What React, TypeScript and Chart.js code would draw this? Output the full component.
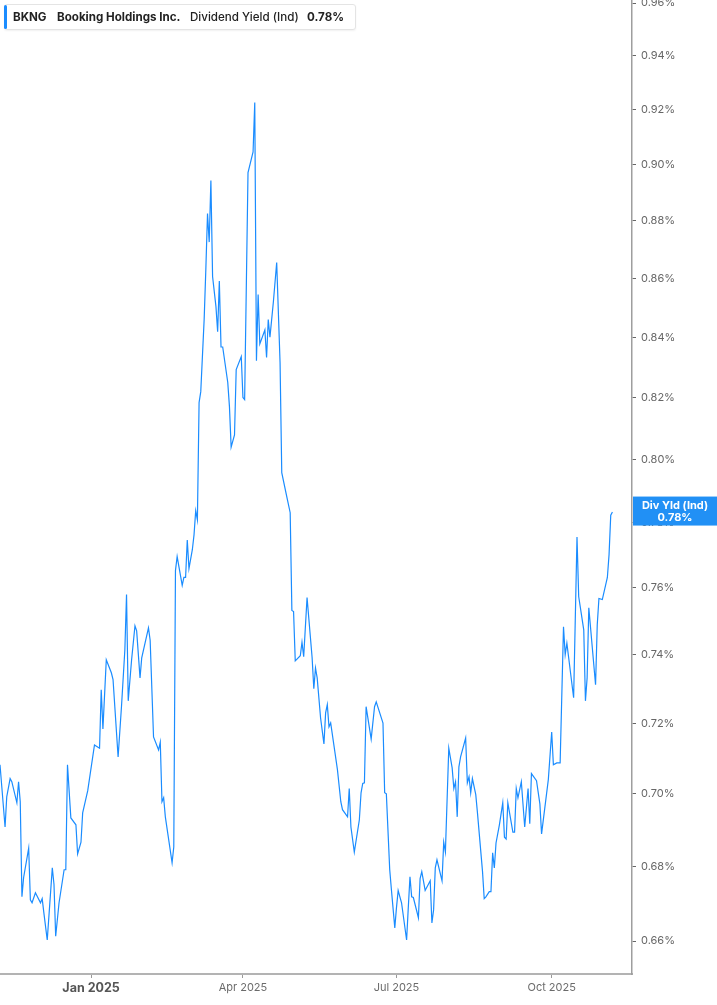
import React, { useEffect, useRef } from 'react';
import { Chart, registerables } from 'chart.js';

Chart.register(...registerables);

// Days since 2025-01-01 for each observed vertex of the series
const dayOffsets = [
  -54, -51, -50, -48, -47, -44, -43, -42, -41, -40,
  -37, -36, -35, -33, -30, -29, -28, -26, -23, -22,
  -21, -19, -16, -15, -14, -12, -9, -8, -6, -5,
  -2, 2, 5, 6, 7, 9, 12, 13, 16, 18,
  20, 21, 22, 24, 26, 27, 29, 30, 34, 35,
  37, 40, 41, 42, 43, 44, 48, 49, 50, 51,
  54, 55, 56, 57, 58, 60, 61, 62, 63, 64,
  65, 67, 68, 69, 70, 71, 72, 74, 75, 76,
  77, 78, 81, 82, 83, 85, 86, 89, 90, 91,
  93, 96, 97, 98, 99, 100, 103, 104, 105, 106,
  108, 110, 112, 113, 116, 118, 119, 120, 121, 124,
  125, 126, 128, 131, 132, 133, 134, 136, 138, 139,
  140, 141, 142, 146, 148, 149, 152, 153, 154, 156,
  159, 160, 161, 162, 163, 166, 168, 169, 173, 174,
  175, 177, 178, 180, 181, 182, 184, 187, 188, 189,
  190, 191, 194, 195, 196, 198, 201, 202, 203, 204,
  205, 208, 209, 210, 212, 214, 215, 216, 217, 218,
  219, 222, 223, 224, 225, 226, 228, 229, 232, 233,
  234, 236, 237, 238, 239, 240, 242, 244, 245, 246,
  247, 250, 251, 252, 253, 255, 257, 259, 260, 261,
  264, 266, 267, 271, 273, 274, 276, 278, 280, 281,
  282, 286, 288, 289, 292, 293, 294, 295, 299, 300,
  301, 303, 306, 307, 308, 309,
];

// Dividend yield (%) at those days
const yieldValues = [
  0.7082, 0.6908, 0.6992, 0.7043, 0.7034, 0.6975, 0.7034, 0.6978, 0.6718, 0.6770,
  0.6850, 0.6710, 0.6702, 0.6729, 0.6702, 0.6713, 0.6675, 0.6603, 0.6796, 0.6751,
  0.6613, 0.6702, 0.6791, 0.6791, 0.7082, 0.6933, 0.6914, 0.6834, 0.6866, 0.6947,
  0.7009, 0.7138, 0.7129, 0.7297, 0.7184, 0.7385, 0.7347, 0.7327, 0.7104, 0.7248,
  0.7414, 0.7580, 0.7265, 0.7385, 0.7486, 0.7471, 0.7332, 0.7391, 0.7480, 0.7443,
  0.7161, 0.7124, 0.7146, 0.6978, 0.6989, 0.6936, 0.6810, 0.6853, 0.7653, 0.7696,
  0.7608, 0.7632, 0.7632, 0.7747, 0.7659, 0.7717, 0.7763, 0.7838, 0.7810, 0.8184,
  0.8220, 0.8460, 0.8631, 0.8826, 0.8726, 0.8943, 0.8607, 0.8504, 0.8419, 0.8591,
  0.8368, 0.8368, 0.8250, 0.8171, 0.8040, 0.8079, 0.8293, 0.8336, 0.8201, 0.8194,
  0.8972, 0.9046, 0.9226, 0.8322, 0.8545, 0.8378, 0.8425, 0.8333, 0.8460, 0.8401,
  0.8518, 0.8655, 0.8316, 0.7958, 0.7882, 0.7832, 0.7532, 0.7529, 0.7382, 0.7397,
  0.7437, 0.7394, 0.7571, 0.7391, 0.7300, 0.7361, 0.7332, 0.7216, 0.7141, 0.7230,
  0.7254, 0.7190, 0.7201, 0.7068, 0.6978, 0.6956, 0.6936, 0.7015, 0.6908, 0.6839,
  0.6928, 0.7003, 0.7029, 0.7031, 0.7248, 0.7155, 0.7248, 0.7262, 0.7201, 0.7003,
  0.7000, 0.6791, 0.6737, 0.6635, 0.6689, 0.6735, 0.6702, 0.6603, 0.6689, 0.6772,
  0.6718, 0.6716, 0.6662, 0.6767, 0.6786, 0.6735, 0.6761, 0.6648, 0.6683, 0.6796,
  0.6818, 0.6761, 0.6866, 0.6839, 0.7129, 0.7073, 0.7015, 0.7034, 0.6936, 0.7076,
  0.7104, 0.7158, 0.7031, 0.7048, 0.7003, 0.7043, 0.6998, 0.6947, 0.6786, 0.6713,
  0.6718, 0.6732, 0.6732, 0.6837, 0.6796, 0.6864, 0.6914, 0.6975, 0.6880, 0.6875,
  0.6975, 0.6894, 0.6894, 0.7015, 0.6989, 0.7034, 0.6908, 0.7015, 0.6917, 0.7057,
  0.7037, 0.6972, 0.6889, 0.7040, 0.7175, 0.7082, 0.7087, 0.7087, 0.7483, 0.7400,
  0.7434, 0.7274, 0.7756, 0.7574, 0.7474, 0.7265, 0.7332, 0.7540, 0.7312, 0.7489,
  0.7568, 0.7565, 0.7632, 0.7702, 0.7824, 0.7834,
];

const xTickDays = [0, 90, 181, 273];
const xTickLabels = ['Jan 2025', 'Apr 2025', 'Jul 2025', 'Oct 2025'];
const yTickValues = [0.66, 0.68, 0.70, 0.72, 0.74, 0.76, 0.78, 0.80, 0.82, 0.84, 0.86, 0.88, 0.90, 0.92, 0.94, 0.96];

const tickerSymbol = 'BKNG';
const companyName = 'Booking Holdings Inc.';
const metricName = 'Dividend Yield (Ind)';
const lastValueText = '0.78%';
const endTagTitle = 'Div Yld (Ind)';

const X_MIN = -54;
const X_MAX = 320.6;
const Y_MIN = 0.6514;
const Y_MAX = 0.9612;

const LINE = '#1a8cff';
const FONT = 'Inter, "Noto Sans", Roboto, sans-serif';

const endLabel = {
  id: 'endLabel',
  afterDraw(chart: any) {
    const { ctx, chartArea, scales } = chart;
    const v = yieldValues[yieldValues.length - 1];
    const py = scales.y.getPixelForValue(v);
    const x0 = chartArea.right + 1;
    const w = chart.width - x0;
    const h = 29;
    const top = py - 15.5;
    ctx.save();
    ctx.fillStyle = '#2190f5';
    ctx.fillRect(x0, top, w, h);
    ctx.fillStyle = '#ffffff';
    ctx.font = `bold 11px ${FONT}`;
    ctx.textAlign = 'center';
    ctx.textBaseline = 'middle';
    const cx = x0 + w / 2;
    ctx.fillText(endTagTitle, cx, top + 9);
    ctx.fillText(lastValueText, cx, top + 21);
    ctx.restore();
  },
};

export default function App() {
  const ref = useRef<HTMLCanvasElement>(null);

  useEffect(() => {
    document.body.style.margin = '0';
    const points = dayOffsets.map((d, i) => ({ x: d, y: yieldValues[i] }));
    const chart = new Chart(ref.current as HTMLCanvasElement, {
      type: 'line',
      data: {
        datasets: [
          {
            data: points,
            borderColor: LINE,
            borderWidth: 1.2,
            pointRadius: 0,
            tension: 0,
            fill: false,
          },
        ],
      },
      options: {
        responsive: false,
        animation: false,
        layout: { padding: 0 },
        plugins: { legend: { display: false }, tooltip: { enabled: false } },
        scales: {
          x: {
            type: 'linear',
            min: X_MIN,
            max: X_MAX,
            afterBuildTicks: (s: any) => {
              s.ticks = xTickDays.map((v) => ({ value: v }));
            },
            afterFit: (s: any) => {
              s.height = 31;
              s.paddingLeft = 0;
              s.paddingRight = 0;
            },
            grid: { drawOnChartArea: false, drawTicks: true, tickLength: 4, color: '#9a9a9a' },
            border: { display: true, color: '#b3b3b3', width: 2 },
            ticks: {
              autoSkip: false,
              maxRotation: 0,
              padding: 3,
              color: (c: any) => (c.tick && c.tick.value === 0 ? '#555555' : '#6b6b6b'),
              font: (c: any) =>
                c.tick && c.tick.value === 0
                  ? { family: FONT, size: 12.5, weight: 'bold' }
                  : { family: FONT, size: 11 },
              callback: (v: any) => {
                const i = xTickDays.indexOf(Number(v));
                return i >= 0 ? xTickLabels[i] : '';
              },
            },
          },
          y: {
            type: 'logarithmic',
            position: 'right',
            min: Y_MIN,
            max: Y_MAX,
            afterBuildTicks: (s: any) => {
              s.ticks = yTickValues.map((v) => ({ value: v }));
            },
            afterFit: (s: any) => {
              s.width = 85;
              s.paddingTop = 0;
              s.paddingBottom = 0;
            },
            grid: { drawOnChartArea: false, drawTicks: true, tickLength: 4, color: '#666666' },
            border: { display: true, color: '#9e9e9e', width: 1.5 },
            ticks: {
              padding: 5,
              color: '#666666',
              font: { family: FONT, size: 11 },
              callback: (v: any) => Number(v).toFixed(2) + '%',
            },
          },
        },
      },
      plugins: [endLabel],
    } as any);
    return () => chart.destroy();
  }, []);

  return (
    <div style={{ position: 'relative', width: 717, height: 1005, overflow: 'hidden', background: '#fff' }}>
      <canvas ref={ref} width={717} height={1005} style={{ display: 'block', width: 717, height: 1005 }} />
      <div
        style={{
          position: 'absolute',
          left: 4,
          top: 4,
          width: 352,
          height: 26,
          boxSizing: 'border-box',
          background: '#fff',
          border: '1px solid #e4e4e4',
          borderRadius: 3,
          boxShadow: '0 1px 2px rgba(0,0,0,0.06)',
          fontFamily: FONT,
          fontSize: 11.6,
          color: '#222',
          lineHeight: '24px',
          whiteSpace: 'nowrap',
        }}
      >
        <div style={{ position: 'absolute', left: -1, top: 0, bottom: 0, width: 3, background: LINE, borderRadius: 2 }} />
        <span style={{ position: 'absolute', left: 8, top: 0, fontWeight: 700 }}>{tickerSymbol}</span>
        <span style={{ position: 'absolute', left: 52, top: 0, fontWeight: 700 }}>{companyName}</span>
        <span style={{ position: 'absolute', left: 185, top: 0, fontWeight: 500 }}>{metricName}</span>
        <span style={{ position: 'absolute', left: 302, top: 0, fontWeight: 700 }}>{lastValueText}</span>
      </div>
    </div>
  );
}
